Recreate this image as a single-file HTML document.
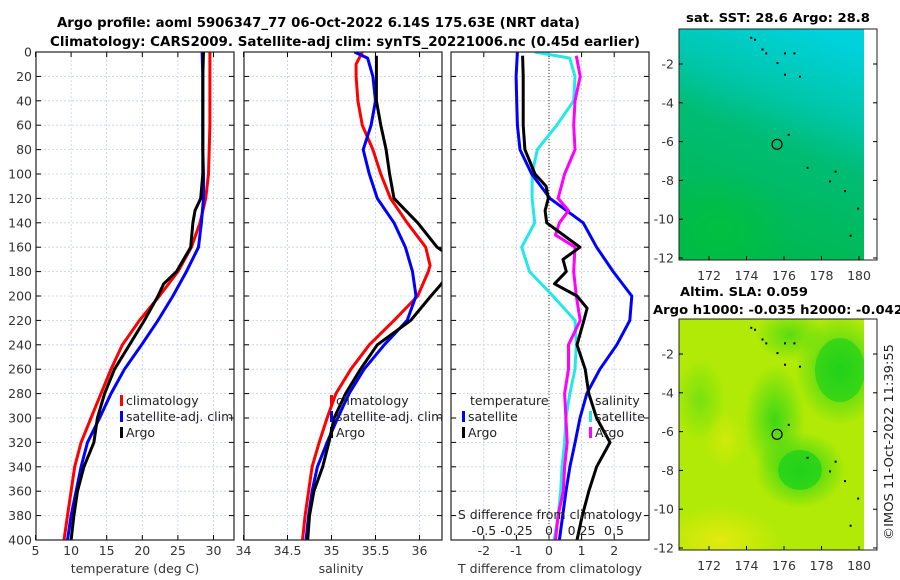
<!DOCTYPE html>
<html><head><meta charset="utf-8"><style>
html,body{margin:0;padding:0;background:#fff;}
svg{display:block;font-family:"DejaVu Sans","Liberation Sans",sans-serif;}
</style></head><body>
<svg id="chart" width="900" height="580" viewBox="0 0 900 580" xmlns="http://www.w3.org/2000/svg">
<defs>
<clipPath id="c1"><rect x="36" y="52" width="198" height="488"/></clipPath>
<clipPath id="c2"><rect x="244" y="52" width="198" height="488"/></clipPath>
<clipPath id="c3"><rect x="451" y="52" width="198" height="488"/></clipPath>
<clipPath id="cm1"><rect x="679" y="29" width="185" height="231"/></clipPath>
<clipPath id="cm2"><rect x="679" y="319" width="185" height="231"/></clipPath>
<linearGradient id="sstg" x1="0.7" y1="0" x2="0.4" y2="1">
<stop offset="0" stop-color="#00d2dc"/><stop offset="0.3" stop-color="#00c6aa"/><stop offset="0.5" stop-color="#00bc74"/><stop offset="1" stop-color="#00b84c"/></linearGradient>
<radialGradient id="sblob"><stop offset="0" stop-color="#00c040"/><stop offset="1" stop-color="#00c040" stop-opacity="0"/></radialGradient>
<radialGradient id="gblob"><stop offset="0" stop-color="#22d21a"/><stop offset="1" stop-color="#22d21a" stop-opacity="0"/></radialGradient>
<radialGradient id="yblob"><stop offset="0" stop-color="#e4ea10"/><stop offset="1" stop-color="#e4ea10" stop-opacity="0"/></radialGradient>
</defs>
<text x="57" y="27" textLength="523" lengthAdjust="spacingAndGlyphs" font-size="13.5" font-weight="bold" fill="#000">Argo profile: aoml 5906347_77 06-Oct-2022 6.14S 175.63E (NRT data)</text>
<text x="50" y="46" textLength="590" lengthAdjust="spacingAndGlyphs" font-size="13.5" font-weight="bold" fill="#000">Climatology: CARS2009. Satellite-adj clim: synTS_20221006.nc (0.45d earlier)</text>
<g id="panels"></g>
<g id="maps"></g>
<text transform="translate(893,540) rotate(-90)" font-size="12.5" fill="#222" textLength="196" lengthAdjust="spacingAndGlyphs">©IMOS 11-Oct-2022 11:39:55</text>
</svg>
<script>
// ---- data (depth in m) ----
const depths = [0,20,40,60,80,100,120,140,160,180,200,220,240,260,280,300,320,340,360,380,400];
const tempClim = [29.5,29.5,29.5,29.5,29.4,29.3,28.9,28.1,26.9,25.0,22.4,19.6,17.2,15.6,14.2,12.8,11.4,10.5,10.0,9.5,9.0];
const tempSat  = [28.4,28.5,28.5,28.5,28.5,28.6,28.6,28.3,27.9,26.2,24.3,22.2,19.9,17.5,15.6,14.0,12.3,11.4,10.7,10.0,9.5];
const tempArgoDepths = [0,20,40,60,80,100,120,130,140,160,170,180,190,200,220,240,260,280,300,320,340,360,380,400];
const tempArgo = [28.6,28.5,28.5,28.5,28.5,28.5,28.2,27.4,27.1,26.8,25.8,24.8,23.0,22.2,20.3,18.2,16.1,14.7,13.7,13.2,11.8,10.9,10.4,10.0];
const salClimDepths = [0,10,20,40,60,80,100,120,140,160,175,180,200,220,240,260,280,300,320,340,360,380,400];
const salClim = [35.35,35.28,35.28,35.30,35.35,35.47,35.56,35.67,35.86,36.07,36.12,36.10,35.98,35.71,35.43,35.22,35.05,34.95,34.86,34.78,34.74,34.70,34.67];
const salSatDepths = [0,5,20,40,60,80,100,120,140,160,180,200,220,240,260,280,300,320,340,360,380,400];
const salSat = [35.26,35.41,35.47,35.50,35.45,35.36,35.43,35.52,35.71,35.84,35.92,35.96,35.86,35.60,35.37,35.20,35.07,34.95,34.84,34.78,34.74,34.71];
const salArgoDepths = [3,20,40,60,80,100,120,140,160,165,170,180,190,200,220,240,260,280,300,320,340,360,380,400];
const salArgo = [35.51,35.51,35.51,35.56,35.62,35.66,35.71,35.98,36.20,36.30,36.40,36.35,36.25,36.13,35.90,35.52,35.33,35.16,35.03,34.97,34.90,34.80,34.75,34.73];
const dTSat = [-0.97,-1.01,-0.99,-0.97,-0.89,-0.53,0.03,1.05,1.46,1.97,2.54,2.48,2.08,1.56,1.16,0.95,0.80,0.64,0.52,0.42,0.32];
const dTArgoDepths = [3,20,40,60,80,100,110,120,130,140,150,160,170,180,190,200,210,220,240,260,280,300,320,340,360,380,400];
const dTArgo = [-0.81,-0.79,-0.79,-0.79,-0.74,-0.43,-0.09,-0.02,-0.12,-0.07,0.44,0.95,0.43,0.53,0.17,0.86,1.17,1.07,0.86,1.11,1.22,1.46,1.87,1.46,1.22,1.02,0.86];
const dSSatDepths = [0,5,20,40,60,80,100,120,140,160,180,200,220,240,260,280,300,320,340,360,380,400];
const dSSat = [-0.11,0.16,0.20,0.19,0.06,-0.09,-0.13,-0.13,-0.11,-0.21,-0.15,0.03,0.20,0.21,0.20,0.16,0.13,0.12,0.10,0.09,0.07,0.04];
const dSArgoDepths = [3,20,40,60,80,100,120,130,140,150,160,180,200,220,240,260,280,300,320,340,360,380,400];
const dSArgo = [0.21,0.24,0.20,0.19,0.20,0.12,0.07,0.15,0.08,0.05,0.20,0.19,0.21,0.24,0.15,0.15,0.12,0.13,0.14,0.12,0.11,0.07,0.05];
const depthTicks = [0,20,40,60,80,100,120,140,160,180,200,220,240,260,280,300,320,340,360,380,400];
const tempTicks = [5,10,15,20,25,30];
const salTicks = [34,34.5,35,35.5,36];
const dTTicks = [-2,-1,0,1,2];
const dSTicks = [-0.5,-0.25,0,0.25,0.5];
const lonTicks = [172,174,176,178,180];
const latTicks = [-2,-4,-6,-8,-10,-12];

// ---- scales ----
const yD = d => 52 + d*1.22;
const xT = t => 35.5 + (t-5)*7.12;
const xS = s => 243.5 + (s-34)*88;
const xDT = t => 549 + t*32.6;
const xDS = s => 549 + s*130;
const xLon = l => 709 + (l-172)*18.75;
const yLat1 = la => 64 + (-2-la)*19.4;
const yLat2 = la => 354 + (-2-la)*19.4;

const NS = "http://www.w3.org/2000/svg";
function mk(tag, attrs, parent){ const e=document.createElementNS(NS,tag); for(const k in attrs) e.setAttribute(k,attrs[k]); parent.appendChild(e); return e; }
const panels = document.getElementById('panels');

function frame(x0,x1,name){
  const g = mk('g',{},panels);
  
  
  mk('rect',{x:x0,y:52,width:x1-x0,height:488,fill:'#fff'},g);
  return g;
}
function grid(g,x0,x1,xs){
  depthTicks.forEach(d=>{ mk('line',{x1:x0,x2:x1,y1:yD(d),y2:yD(d),stroke:'#c8cde8','stroke-width':0.8,'stroke-dasharray':'2,2'},g);
    mk('line',{x1:x0,x2:x0+5,y1:yD(d),y2:yD(d),stroke:'#000','stroke-width':1},g);
    mk('line',{x1:x1-5,x2:x1,y1:yD(d),y2:yD(d),stroke:'#000','stroke-width':1},g);});
  xs.forEach(x=>{ if(x>x0+1&&x<x1-1) mk('line',{x1:x,x2:x,y1:52,y2:540,stroke:'#c8cde8','stroke-width':0.8,'stroke-dasharray':'2,2'},g);
    if(x>=x0-1&&x<=x1+1){ mk('line',{x1:x,x2:x,y1:535,y2:540,stroke:'#000'},g); mk('line',{x1:x,x2:x,y1:52,y2:57,stroke:'#000'},g);} });
}
function series(g,ds,vals,xf,color,clip,name){
  const pts = ds.map((d,i)=>xf(vals[i]).toFixed(1)+','+yD(d).toFixed(1)).join(' ');
  const p = mk('polyline',{points:pts,fill:'none',stroke:color,'stroke-width':3,'stroke-linejoin':'round','clip-path':'url(#'+clip+')'},g);
  
  
}
function border(g,x0,x1){ mk('rect',{x:x0,y:52,width:x1-x0,height:488,fill:'none',stroke:'#222','stroke-width':1.2},g); }
function txt(g,x,y,s,opt){ const t=mk('text',Object.assign({x:x,y:y,'font-size':12.5,fill:'#333'},opt||{}),g); t.textContent=s; return t; }
function legendEntry(g,x,y,color,label){
  const e = mk('g',{},g);
  
  
  mk('rect',{x:x,y:y-10,width:3,height:11,fill:color},e);
  txt(e,x+6,y,label,{fill:'#222'});
}

// panel 1
let g1 = frame(36,234,'temperature-panel');
grid(g1,36,234,tempTicks.map(xT));
series(g1,depths,tempClim,xT,'#ff0000','c1','temp-climatology-line');
series(g1,depths,tempSat,xT,'#0000ff','c1','temp-satellite-line');
series(g1,tempArgoDepths,tempArgo,xT,'#000','c1','temp-argo-line');
border(g1,36,234);
depthTicks.forEach(d=>txt(g1,32,yD(d)+4.5,String(d),{'text-anchor':'end'}));
tempTicks.forEach(t=>txt(g1,xT(t),555,String(t),{'text-anchor':'middle'}));
txt(g1,135,573,'temperature (deg C)',{'text-anchor':'middle'});
legendEntry(g1,120,405,'#ff0000','climatology');
legendEntry(g1,120,421,'#0000ff','satellite-adj. clim');
legendEntry(g1,120,437,'#000','Argo');

// panel 2
let g2 = frame(244,442,'salinity-panel');
grid(g2,244,442,salTicks.map(xS));
series(g2,salClimDepths,salClim,xS,'#ff0000','c2','sal-climatology-line');
series(g2,salSatDepths,salSat,xS,'#0000ff','c2','sal-satellite-line');
series(g2,salArgoDepths,salArgo,xS,'#000','c2','sal-argo-line');
border(g2,244,442);
salTicks.forEach(s=>txt(g2,xS(s),555,String(s),{'text-anchor':'middle'}));
txt(g2,341,573,'salinity',{'text-anchor':'middle'});
legendEntry(g2,330,405,'#ff0000','climatology');
legendEntry(g2,330,421,'#0000ff','satellite-adj. clim');
legendEntry(g2,330,437,'#000','Argo');

// panel 3
let g3 = frame(451,649,'difference-panel');
grid(g3,451,649,dTTicks.map(xDT));
mk('line',{x1:549,x2:549,y1:52,y2:540,stroke:'#333','stroke-width':1,'stroke-dasharray':'1,2'},g3);
series(g3,dSSatDepths,dSSat,xDS,'#22e8e8','c3','sal-diff-satellite-line');
series(g3,depths,dTSat,xDT,'#0000ff','c3','temp-diff-satellite-line');
series(g3,dSArgoDepths,dSArgo,xDS,'#ff00ff','c3','sal-diff-argo-line');
series(g3,dTArgoDepths,dTArgo,xDT,'#000','c3','temp-diff-argo-line');
border(g3,451,649);
dTTicks.forEach(t=>txt(g3,xDT(t),555,String(t),{'text-anchor':'middle'}));
txt(g3,550,573,'T difference from climatology',{'text-anchor':'middle'});
txt(g3,550,519,'S difference from climatology',{'text-anchor':'middle',fill:'#222'});
dSTicks.forEach(s=>txt(g3,xDS(s),535,String(s),{'text-anchor':'middle',fill:'#222'}));
txt(g3,470,405,'temperature',{fill:'#222'});
txt(g3,595,405,'salinity',{fill:'#222'});
legendEntry(g3,462,421,'#0000ff','satellite');
legendEntry(g3,462,437,'#000','Argo');
legendEntry(g3,589,421,'#22e8e8','satellite');
legendEntry(g3,589,437,'#ff00ff','Argo');

// maps
const maps = document.getElementById('maps');
function mapFrame(top,yLat,name,clip,fill){
  const g = mk('g',{},maps);
  
  
  fill(g,clip,top);
  mk('rect',{x:864,y:top,width:13,height:231,fill:'#fff'},g);
  const dots=[[174.2,-0.6],[174.4,-0.7],[174.8,-1.2],[175.0,-1.4],[175.6,-1.9],[176.0,-1.4],[176.5,-1.4],[176.0,-2.5],[176.8,-2.6],[176.2,-5.6],[177.2,-7.3],[178.7,-7.5],[178.4,-8.0],[179.2,-8.5],[179.9,-9.4],[179.5,-10.8]];
  dots.forEach(p=>mk('rect',{x:xLon(p[0]),y:yLat(p[1]),width:2,height:2,fill:'#000'},g));
  mk('circle',{cx:xLon(175.63),cy:yLat(-6.14),r:5,fill:'none',stroke:'#000','stroke-width':1.2},g);
  mk('rect',{x:679,y:top,width:198,height:231,fill:'none',stroke:'#222','stroke-width':1},g);
  lonTicks.forEach(l=>{ mk('line',{x1:xLon(l),x2:xLon(l),y1:top+231,y2:top+227,stroke:'#000'},g); txt(g,xLon(l),top+251,String(l),{'text-anchor':'middle'}); });
  latTicks.forEach(la=>{ mk('line',{x1:679,x2:683,y1:yLat(la),y2:yLat(la),stroke:'#000'},g); mk('line',{x1:873,x2:877,y1:yLat(la),y2:yLat(la),stroke:'#000'},g); txt(g,674,yLat(la)+4.5,String(la),{'text-anchor':'end'}); });
  return g;
}
mapFrame(29,yLat1,'sst-map','cm1',(g,clip,top)=>{
  mk('rect',{x:679,y:top,width:185,height:231,fill:'url(#sstg)'},g);
  mk('ellipse',{cx:720,cy:230,rx:70,ry:60,fill:'url(#sblob)','clip-path':'url(#'+clip+')'},g);
});
mapFrame(319,yLat2,'sla-map','cm2',(g,clip,top)=>{
  const c = {'clip-path':'url(#'+clip+')'};
  mk('rect',Object.assign({x:679,y:top,width:185,height:231,fill:'#b0ea06'},c),g);
  mk('ellipse',Object.assign({cx:840,cy:370,rx:45,ry:55,fill:'url(#gblob)'},c),g);
  mk('ellipse',Object.assign({cx:840,cy:370,rx:25,ry:32,fill:'#22d21a',opacity:0.7},c),g);
  mk('ellipse',Object.assign({cx:800,cy:470,rx:45,ry:38,fill:'url(#gblob)'},c),g);
  mk('ellipse',Object.assign({cx:800,cy:470,rx:22,ry:20,fill:'#22d21a',opacity:0.8},c),g);
  mk('ellipse',Object.assign({cx:775,cy:420,rx:30,ry:55,fill:'url(#gblob)',opacity:0.8},c),g);
  mk('ellipse',Object.assign({cx:790,cy:335,rx:35,ry:25,fill:'url(#gblob)',opacity:0.6},c),g);
  mk('ellipse',Object.assign({cx:700,cy:400,rx:25,ry:40,fill:'url(#gblob)',opacity:0.4},c),g);
  mk('ellipse',Object.assign({cx:720,cy:540,rx:60,ry:35,fill:'url(#yblob)'},c),g);
  mk('ellipse',Object.assign({cx:725,cy:440,rx:20,ry:30,fill:'url(#yblob)',opacity:0.6},c),g);
});
const t1 = txt(maps,686,22,'sat. SST: 28.6 Argo: 28.8',{'font-weight':'bold',fill:'#000',textLength:184,lengthAdjust:'spacingAndGlyphs'});

const t2 = txt(maps,680,296,'Altim. SLA: 0.059',{'font-weight':'bold',fill:'#000',textLength:128,lengthAdjust:'spacingAndGlyphs'});

const t3 = txt(maps,653,314,'Argo h1000: -0.035 h2000: -0.042',{'font-weight':'bold',fill:'#000',textLength:250,lengthAdjust:'spacingAndGlyphs'});

</script>
</body></html>
